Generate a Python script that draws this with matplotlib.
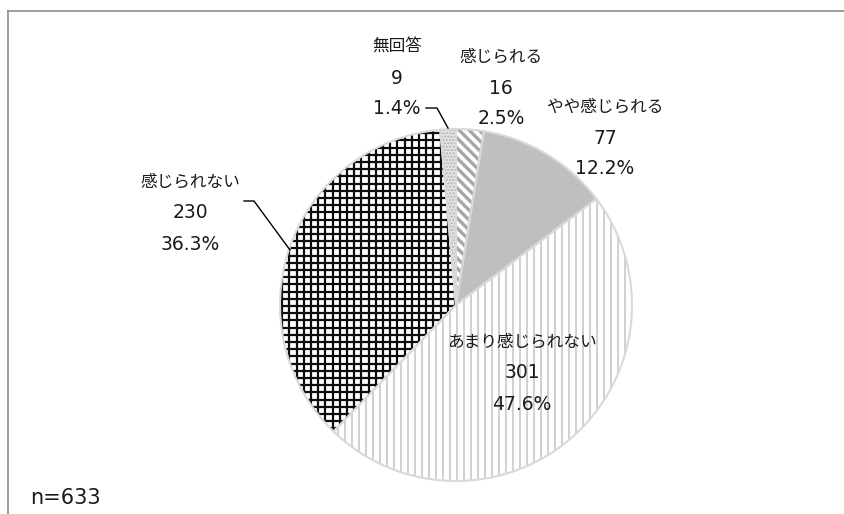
import numpy as np
import matplotlib
import matplotlib.pyplot as plt
from matplotlib.patches import Wedge
from matplotlib.collections import LineCollection

matplotlib.use('agg')
plt.rcParams['font.family'] = ['Noto Sans CJK JP', 'DejaVu Sans']

# data (clockwise from 12 o'clock)
labels = ['感じられる', 'やや感じられる', 'あまり感じられない', '感じられない', '無回答']
counts = [16, 77, 301, 230, 9]
pcts = ['2.5%', '12.2%', '47.6%', '36.3%', '1.4%']
n_total = 633

# layout in pixel coords (y from top)
W, H = 845, 514
cx, cy, R = 456, 305, 176
label_xy = [(501, 57), (605, 107), (522, 342), (190, 182), (397, 47)]
line_gap = 31
leaders = {4: [(426, 108), (437, 108), (448, 128)],
           3: [(244, 201), (254, 201), (290, 250)]}

fig = plt.figure(figsize=(W / 100, H / 100), dpi=100)
ax = fig.add_axes([0, 0, 1, 1])

wedges, _ = ax.pie(counts, radius=R, center=(cx, H - cy), startangle=90,
                   counterclock=False,
                   colors=['white', '#BFBFBF', 'white', 'white', '#E4E4E4'],
                   wedgeprops=dict(linewidth=0))
ax.set_xlim(0, W)
ax.set_ylim(0, H)
ax.set_aspect('equal')
ax.axis('off')


def clipped_lines(segs, wedge, color, lw):
    lc = LineCollection(segs, colors=color, linewidths=lw, zorder=2)
    ax.add_collection(lc)
    lc.set_clip_path(wedge)


x0, x1 = cx - R - 5, cx + R + 5
y0, y1 = H - cy - R - 5, H - cy + R + 5

# 感じられる: diagonal gray stripes
segs = [[(x, y1), (x + (y1 - y0), y0)] for x in np.arange(x0 - 2 * R - 10, x1, 10)]
clipped_lines(segs, wedges[0], '#A6A6A6', 2.4)

# あまり感じられない: vertical light stripes
segs = [[(x, y0), (x, y1)] for x in np.arange(x0, x1, 7)]
clipped_lines(segs, wedges[2], '#C4C4C4', 1.1)

# 感じられない: black grid
segs = [[(x, y0), (x, y1)] for x in np.arange(x0, x1, 7.2)]
segs += [[(x0, y), (x1, y)] for y in np.arange(y0, y1, 7.2)]
clipped_lines(segs, wedges[3], '#0d0d0d', 1.6)

# 無回答: fine dots
wedges[4].set_hatch('.....')
wedges[4].set_edgecolor('#B0B0B0')

# outlines
for w in wedges:
    ax.add_patch(Wedge(w.center, w.r, w.theta1, w.theta2, fill=False,
                       edgecolor='#D9D9D9', linewidth=1.5, zorder=3))

# labels
for i, (x, y) in enumerate(label_xy):
    ax.text(x, H - y, labels[i], ha='center', va='center',
            fontsize=12, color='#1a1a1a', zorder=5)
    for k, t in enumerate([str(counts[i]), pcts[i]], start=1):
        ax.text(x, H - (y + k * line_gap), t, ha='center', va='center',
                fontsize=13.5, family='DejaVu Sans', color='#1a1a1a', zorder=5)

for pts in leaders.values():
    ax.plot([p[0] for p in pts], [H - p[1] for p in pts], color='black',
            lw=1.0, zorder=4)

ax.text(30, H - 498, f'n={n_total}', ha='left', va='center', fontsize=15,
        family='DejaVu Sans', color='#1a1a1a')

# frame (top and left only visible)
ax.plot([8.5, W], [H - 11, H - 11], color='#8C8C8C', lw=1.2, clip_on=False)
ax.plot([8.5, 8.5], [H - 11, 0], color='#8C8C8C', lw=1.2, clip_on=False)

fig.savefig('out.png', dpi=100)
